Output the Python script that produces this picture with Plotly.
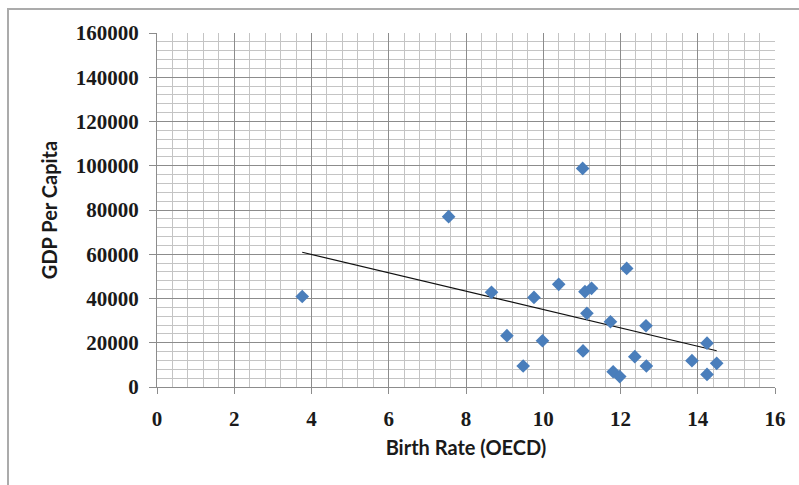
import numpy as np
import plotly.graph_objects as go

birth_rate = [3.76, 7.55, 11.02, 8.66, 9.76, 10.40, 11.08, 11.25, 11.13, 11.74, 12.16,
              12.66, 9.06, 9.98, 11.03, 9.48, 11.81, 11.98, 12.37, 12.67, 13.85, 14.24,
              14.49, 14.24]
gdp_per_capita = [40900, 77000, 98800, 42800, 40500, 46400, 43100, 44600, 33300, 29500, 53600,
                  27700, 23200, 20900, 16300, 9500, 6900, 4700, 13700, 9500, 11900, 19800,
                  10700, 5700]

x_ticks = [0, 2, 4, 6, 8, 10, 12, 14, 16]
y_ticks = [0, 20000, 40000, 60000, 80000, 100000, 120000, 140000, 160000]

x_title = "Birth Rate (OECD)"
y_title = "GDP Per Capita"

# linear trendline (least squares), drawn over the data's x range
slope, intercept = np.polyfit(birth_rate, gdp_per_capita, 1)
trend_x = [min(birth_rate), max(birth_rate)]
trend_y = [slope * v + intercept for v in trend_x]

fig = go.Figure()
fig.add_trace(go.Scatter(
    x=trend_x, y=trend_y, mode="lines",
    line=dict(color="#111111", width=1.2),
    showlegend=False, hoverinfo="skip"))
fig.add_trace(go.Scatter(
    x=birth_rate, y=gdp_per_capita, mode="markers",
    marker=dict(symbol="diamond", size=10.5, color="#4a7ebb", line=dict(width=0)),
    showlegend=False))

tick_font = dict(family="Liberation Serif", size=21, color="#1a1a1a", weight="bold")
title_font = dict(family="Lato", size=20, color="#1a1a1a", weight="bold")

L, R, T, B = 157, 775, 33, 387
W, H = 799, 485

fig.update_layout(
    width=W, height=H,
    margin=dict(l=L, r=W - R, t=T, b=H - B, pad=0),
    paper_bgcolor="white", plot_bgcolor="white",
    xaxis=dict(
        range=[0, 16], tickvals=x_ticks, ticktext=[str(v) for v in x_ticks],
        showgrid=True, gridcolor="#8c8c8c", gridwidth=1,
        minor=dict(dtick=0.4, tick0=0, showgrid=True, gridcolor="#c4c4c4", gridwidth=1),
        showline=True, linecolor="#8c8c8c", linewidth=1,
        ticks="outside", ticklen=6, tickcolor="#8c8c8c",
        tickfont=tick_font, ticklabelstandoff=7,
        zeroline=False,
        title=dict(text=x_title, font=title_font, standoff=10),
    ),
    yaxis=dict(
        range=[0, 160000], tickvals=y_ticks, ticktext=[str(v) for v in y_ticks],
        showgrid=True, gridcolor="#8c8c8c", gridwidth=1,
        minor=dict(dtick=4000, tick0=0, showgrid=True, gridcolor="#c4c4c4", gridwidth=1),
        showline=True, linecolor="#8c8c8c", linewidth=1,
        ticks="outside", ticklen=7, tickcolor="#8c8c8c",
        tickfont=tick_font, ticklabelstandoff=6,
        zeroline=False,
        title=dict(text=y_title, font=title_font, standoff=12),
    ),
)

# outer chart-area border (partially cropped in the reference)
pw, ph = R - L, B - T
fig.add_shape(type="rect", xref="paper", yref="paper",
              x0=(8 - L) / pw, x1=(815 - L) / pw,
              y0=(B - 500) / ph, y1=(B - 9) / ph,
              line=dict(color="#ababab", width=2), fillcolor="rgba(0,0,0,0)", layer="below")

fig.write_html("out.html")
